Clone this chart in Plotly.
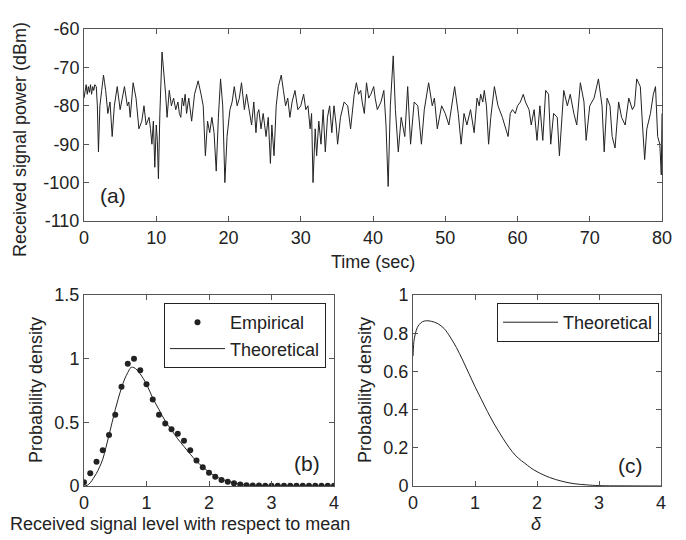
import plotly.graph_objects as go

# ---- data ----
time_s = [0.0,0.15,0.3,0.45,0.6,0.75,0.9,1.05,1.2,1.35,1.5,1.7,1.85,2.0,2.2,2.45,2.7,2.85,3.0,3.3,3.6,3.9,4.2,4.6,5.0,5.3,5.6,6.0,6.2,6.4,6.8,7.2,7.6,8.0,8.3,8.6,9.0,9.2,9.4,9.6,9.8,10.0,10.15,10.3,10.5,10.8,11.0,11.3,11.5,11.8,12.1,12.4,12.7,13.0,13.2,13.4,13.6,13.8,14.0,14.2,14.5,14.7,14.9,15.3,15.8,16.2,16.5,16.8,17.1,17.4,17.7,18.0,18.3,18.6,18.9,19.2,19.5,19.8,20.2,20.5,20.8,21.2,21.5,21.8,22.2,22.5,22.8,23.2,23.5,23.8,24.0,24.2,24.5,24.8,25.2,25.5,25.8,26.0,26.3,26.6,26.9,27.3,27.6,27.9,28.2,28.5,28.8,29.2,29.6,30.0,30.4,30.7,31.0,31.3,31.5,31.7,32.0,32.2,32.5,32.8,33.1,33.4,33.7,34.0,34.3,34.6,34.9,35.1,35.5,36.0,36.5,36.9,37.4,37.7,38.0,38.3,38.5,38.8,39.1,39.4,39.7,40.1,40.3,40.6,41.1,41.5,41.8,42.1,42.4,42.8,43.1,43.5,43.9,44.4,44.8,45.2,45.7,46.2,46.7,47.1,47.7,48.2,48.5,48.9,49.5,50.0,50.5,51.3,51.8,52.2,52.6,53.0,53.5,54.0,54.4,54.7,54.9,55.2,55.4,55.7,56.0,56.3,56.8,57.3,57.9,58.2,58.7,59.0,59.3,59.7,60.0,60.4,60.8,61.1,61.6,61.9,62.3,62.7,63.1,63.5,63.9,64.3,64.6,65.0,65.5,65.8,66.2,66.4,66.9,67.3,67.8,68.2,68.7,69.2,69.5,70.0,70.6,71.2,71.7,72.0,72.4,72.8,73.1,73.5,74.0,74.4,74.9,75.4,75.9,76.2,76.5,77.0,77.3,77.6,77.9,78.4,78.8,79.1,79.4,79.7,79.9,80.0]
power_dbm = [-78,-76,-74.5,-77,-75,-76.5,-74.5,-77,-75,-76,-74.5,-75,-80,-92,-80,-76,-72,-74,-76,-82,-79,-88,-80,-75,-81,-78,-75,-80,-79,-83,-74,-78,-86,-84,-80,-85,-83,-86,-90,-84,-96,-85,-89,-99,-82,-66,-70,-77,-83,-76,-80,-78,-81,-79,-82,-83,-78,-80,-77,-82,-78,-81,-84,-77,-73.5,-77,-80,-93,-84,-87,-83,-87,-97,-83,-73,-80,-100,-88,-81,-79,-75,-80,-78,-74,-81,-77,-80,-85,-79,-87,-82,-81,-86,-82,-88,-83,-95,-85,-93,-80,-75,-72,-76,-80,-78,-83,-79,-76,-81,-80,-77,-81,-80,-86,-82,-100,-86,-93,-84,-90,-81,-92,-83,-80,-87,-80,-85,-90,-83,-79,-80,-86,-77,-74,-77,-76,-79,-82,-74,-78,-77,-75,-78,-81,-79,-76,-85,-101,-80,-67,-81,-92,-83,-88,-75,-90,-79,-80,-90,-81,-74,-80,-78,-86,-80,-82,-85,-75,-82,-90,-82,-85,-81,-87,-78,-80,-77,-79,-76,-80,-90,-83,-75,-80,-83,-85,-88,-82,-81,-82,-80,-79,-77,-79,-81,-85,-81,-89,-80,-89,-76,-77,-90,-82,-83,-93,-80,-76,-80,-77,-82,-85,-74,-79,-89,-80,-78,-73,-80,-92,-78,-80,-88,-91,-79,-83,-85,-78,-81,-80,-73,-75,-85,-94,-86,-82,-77,-75,-88,-90,-98,-82]

emp_level = [0.0,0.1,0.2,0.3,0.4,0.5,0.6,0.7,0.8,0.9,1.0,1.1,1.2,1.3,1.4,1.5,1.6,1.7,1.8,1.9,2.0,2.1,2.2,2.3,2.4,2.5,2.6,2.7,2.8,2.9,3.0,3.1,3.2,3.3,3.4,3.5,3.6,3.7,3.8,3.9,4.0]
emp_density = [0.03,0.10,0.19,0.28,0.40,0.56,0.78,0.96,1.00,0.91,0.80,0.68,0.56,0.49,0.445,0.41,0.355,0.28,0.20,0.147,0.105,0.073,0.047,0.034,0.021,0.012,0.006,0.004,0.003,0.002,0.002,0.001,0.001,0.001,0.001,0.001,0.001,0.001,0.001,0.001,0.001]

theo_level = [0.0,0.05,0.1,0.15,0.2,0.25,0.3,0.35,0.4,0.45,0.5,0.55,0.6,0.65,0.7,0.75,0.8,0.85,0.9,1.0,1.1,1.2,1.3,1.4,1.5,1.6,1.7,1.8,1.9,2.0,2.1,2.2,2.3,2.4,2.5,2.6,2.8,3.0,3.5,4.0]
theo_density = [0.0,0.005,0.025,0.06,0.10,0.15,0.21,0.30,0.40,0.50,0.60,0.69,0.77,0.84,0.89,0.93,0.93,0.91,0.88,0.80,0.69,0.60,0.51,0.44,0.37,0.31,0.25,0.195,0.15,0.11,0.078,0.055,0.037,0.025,0.016,0.010,0.004,0.0015,0.0003,0.0]

delta = [0.0,0.01,0.02,0.04,0.07,0.1,0.15,0.22,0.3,0.4,0.5,0.6,0.7,0.8,0.9,1.0,1.1,1.2,1.3,1.4,1.5,1.6,1.7,1.8,1.9,2.0,2.2,2.4,2.6,2.8,3.0,3.5,4.0]
delta_density = [0.68,0.74,0.77,0.80,0.83,0.845,0.86,0.865,0.862,0.85,0.825,0.78,0.725,0.66,0.59,0.52,0.455,0.39,0.33,0.276,0.225,0.18,0.145,0.12,0.095,0.075,0.045,0.025,0.012,0.006,0.002,0.0005,0.0]

top_yticks = [-110, -100, -90, -80, -70, -60]
top_yticklabels = ["-110", "-100", "-90", "-80", "-70", "-60"]

W, H = 686, 540
OFF = 8  # page body margin offsets the figure by 8px in both directions
def px(x): return (x - OFF) / W
def py(y): return (H - (y - OFF)) / H

FONT = "Liberation Sans, Arial, sans-serif"
FS = 18
INK = "#222222"
AX = "#555555"

fig = go.Figure()
fig.add_trace(go.Scatter(x=time_s, y=power_dbm, mode="lines",
                         line=dict(color=INK, width=1), showlegend=False,
                         xaxis="x", yaxis="y"))
fig.add_trace(go.Scatter(x=emp_level, y=emp_density, mode="markers", name="Empirical",
                         marker=dict(color=INK, size=6), xaxis="x2", yaxis="y2",
                         legend="legend"))
fig.add_trace(go.Scatter(x=theo_level, y=theo_density, mode="lines", name="Theoretical",
                         line=dict(color=INK, width=1, shape="spline"), xaxis="x2", yaxis="y2",
                         legend="legend"))
fig.add_trace(go.Scatter(x=delta, y=delta_density, mode="lines", name="Theoretical",
                         line=dict(color=INK, width=1, shape="spline"), xaxis="x3", yaxis="y3",
                         legend="legend2"))

axis_common = dict(showline=True, linecolor=AX, linewidth=1, mirror="ticks",
                   ticks="inside", ticklen=5, tickcolor=AX, showgrid=False,
                   zeroline=False, automargin=False,
                   tickfont=dict(size=FS, color=INK, family=FONT))

fig.update_layout(
    width=W, height=H, margin=dict(l=0, r=0, t=0, b=0),
    paper_bgcolor="white", plot_bgcolor="white",
    font=dict(family=FONT, color=INK, size=FS),
    xaxis=dict(domain=[px(84), px(662)], anchor="y", range=[0, 80],
               tickvals=[0,10,20,30,40,50,60,70,80], **axis_common),
    yaxis=dict(domain=[py(221), py(29)], anchor="x", range=[-110, -60],
               tickvals=top_yticks, ticktext=top_yticklabels, **axis_common),
    xaxis2=dict(domain=[px(84), px(334)], anchor="y2", range=[0, 4],
                tickvals=[0,1,2,3,4], **axis_common),
    yaxis2=dict(domain=[py(486), py(295)], anchor="x2", range=[0, 1.5],
                tickvals=[0,0.5,1,1.5], ticktext=["0","0.5","1","1.5"], **axis_common),
    xaxis3=dict(domain=[px(413), px(661)], anchor="y3", range=[0, 4],
                tickvals=[0,1,2,3,4], **axis_common),
    yaxis3=dict(domain=[py(486), py(295)], anchor="x3", range=[0, 1],
                tickvals=[0,0.2,0.4,0.6,0.8,1], ticktext=["0","0.2","0.4","0.6","0.8","1"],
                **axis_common),
    legend=dict(x=px(326), y=py(303), xanchor="right", yanchor="top",
                bordercolor=INK, borderwidth=1, bgcolor="white",
                font=dict(size=FS, family=FONT, color=INK), itemwidth=55,
                tracegroupgap=0),
    legend2=dict(x=px(659), y=py(303), xanchor="right", yanchor="top",
                 bordercolor=INK, borderwidth=1, bgcolor="white",
                 font=dict(size=FS, family=FONT, color=INK), itemwidth=55),
)

ann = [
    dict(x=px(20), y=py(140), text="Received signal power (dBm)", textangle=-90),
    dict(x=px(373), y=py(262), text="Time (sec)"),
    dict(x=px(36), y=py(390), text="Probability density", textangle=-90),
    dict(x=px(365), y=py(390), text="Probability density", textangle=-90),
    dict(x=px(180), y=py(524), text="Received signal level with respect to mean"),
    dict(x=px(536), y=py(524), text="<i>δ</i>"),
    dict(x=px(113), y=py(195), text="(a)", font=dict(size=21)),
    dict(x=px(307), y=py(463), text="(b)", font=dict(size=21)),
    dict(x=px(630), y=py(465), text="(c)", font=dict(size=21)),
]
for a in ann:
    a.setdefault("font", dict(size=FS))
    a["font"].update(family=FONT, color=INK)
    fig.add_annotation(xref="paper", yref="paper", showarrow=False,
                       xanchor="center", yanchor="middle", **a)

fig.write_html("out.html")
